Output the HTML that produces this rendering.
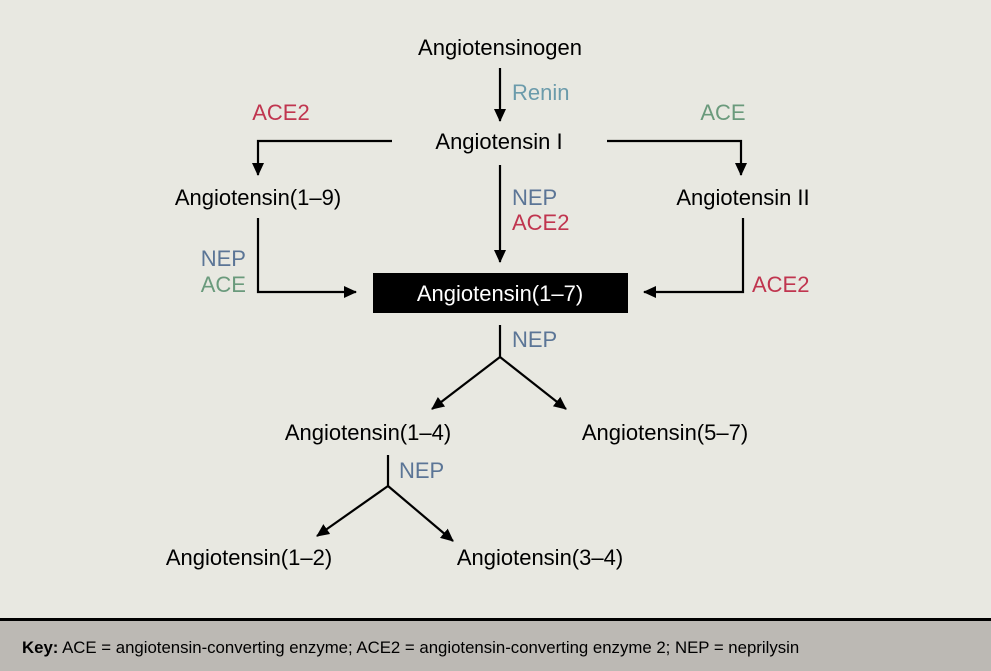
<!DOCTYPE html>
<html><head><meta charset="utf-8"><style>
html,body{margin:0;padding:0;background:#e8e8e1;}
svg{display:block}
text{font-family:"Liberation Sans",sans-serif;font-size:22px}
</style></head><body>
<svg width="991" height="671" viewBox="0 0 991 671" xmlns="http://www.w3.org/2000/svg">
<defs><marker id="a" markerWidth="14" markerHeight="14" refX="12" refY="6" orient="auto" markerUnits="userSpaceOnUse"><path d="M0,0 L13,6 L0,12 Z" fill="#000"/></marker></defs>
<rect width="991" height="671" fill="#e8e8e1"/>
<g stroke="#000" stroke-width="2.2" fill="none">
<line x1="500" y1="68" x2="500" y2="121" marker-end="url(#a)"/>
<polyline points="392,141 258,141 258,175" marker-end="url(#a)"/>
<polyline points="607,141 741,141 741,175" marker-end="url(#a)"/>
<line x1="500" y1="165" x2="500" y2="262" marker-end="url(#a)"/>
<polyline points="258,218 258,292 356,292" marker-end="url(#a)"/>
<polyline points="743,218 743,292 644,292" marker-end="url(#a)"/>
<line x1="500" y1="325" x2="500" y2="357"/>
<line x1="500" y1="357" x2="432" y2="409" marker-end="url(#a)"/>
<line x1="500" y1="357" x2="566" y2="409" marker-end="url(#a)"/>
<line x1="388" y1="455" x2="388" y2="486"/>
<line x1="388" y1="486" x2="317" y2="536" marker-end="url(#a)"/>
<line x1="388" y1="486" x2="453" y2="541" marker-end="url(#a)"/>
</g>
<rect x="373" y="273" width="255" height="40" fill="#000"/>
<g text-anchor="middle" fill="#000">
<text x="500" y="55">Angiotensinogen</text>
<text x="499" y="149">Angiotensin I</text>
<text x="258" y="205">Angiotensin(1–9)</text>
<text x="743" y="205">Angiotensin II</text>
<text x="500" y="301" fill="#fff">Angiotensin(1–7)</text>
<text x="368" y="440">Angiotensin(1–4)</text>
<text x="665" y="440">Angiotensin(5–7)</text>
<text x="249" y="565">Angiotensin(1–2)</text>
<text x="540" y="565">Angiotensin(3–4)</text>
<text x="281" y="120" fill="#c0354f">ACE2</text>
<text x="723" y="120" fill="#6a9a7c">ACE</text>
</g>
<text x="512" y="100" fill="#6b9bab">Renin</text>
<text x="512" y="205" fill="#5b7596">NEP</text>
<text x="512" y="230" fill="#c0354f">ACE2</text>
<text x="246" y="266" text-anchor="end" fill="#5b7596">NEP</text>
<text x="246" y="292" text-anchor="end" fill="#6a9a7c">ACE</text>
<text x="752" y="292" fill="#c0354f">ACE2</text>
<text x="512" y="347" fill="#5b7596">NEP</text>
<text x="399" y="478" fill="#5b7596">NEP</text>
<rect x="0" y="620" width="991" height="51" fill="#bcb9b4"/>
<rect x="0" y="618" width="991" height="3" fill="#000"/>
<text x="22" y="653" style="font-size:16.8px"><tspan font-weight="bold">Key:</tspan> ACE = angiotensin-converting enzyme; ACE2 = angiotensin-converting enzyme 2; NEP = neprilysin</text>
</svg>
</body></html>
